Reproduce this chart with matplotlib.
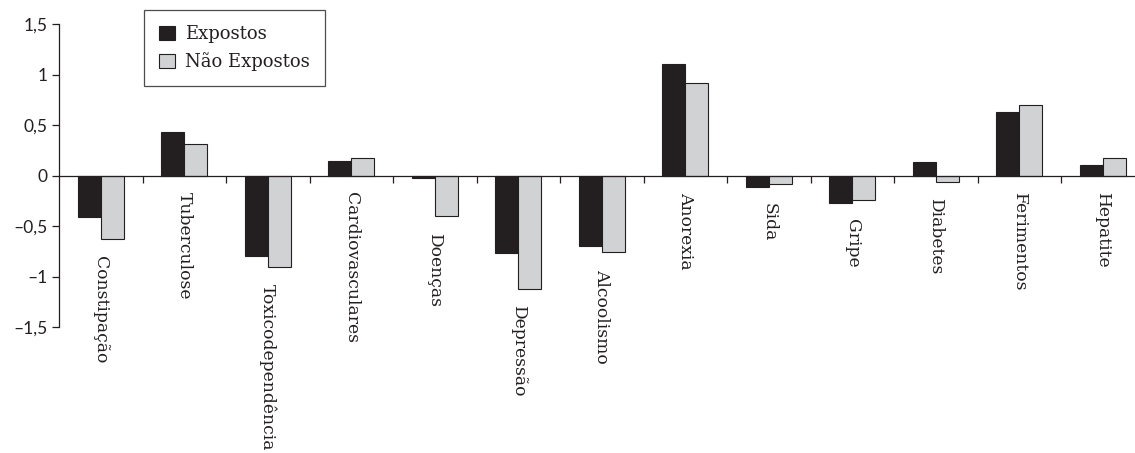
import matplotlib
matplotlib.use('Agg')
import matplotlib.pyplot as plt
from matplotlib.ticker import FuncFormatter
import numpy as np

# data
categorias = ['Constipação', 'Tuberculose', 'Toxicodependência', 'Cardiovasculares',
              'Doenças', 'Depressão', 'Alcoolismo', 'Anorexia', 'Sida', 'Gripe',
              'Diabetes', 'Ferimentos', 'Hepatite']
expostos = [-0.41, 0.43, -0.80, 0.14, -0.02, -0.77, -0.70, 1.10, -0.11, -0.27, 0.13, 0.63, 0.10]
nao_expostos = [-0.63, 0.31, -0.91, 0.17, -0.40, -1.12, -0.76, 0.92, -0.08, -0.24, -0.06, 0.70, 0.17]
y_ticks = [-1.5, -1, -0.5, 0, 0.5, 1, 1.5]

DARK = '#231f20'
GREY = '#d1d2d4'

fig = plt.figure(figsize=(11.35, 4.53), dpi=100)
ax = fig.add_axes([59 / 1135, (453 - 327) / 453, 1 - 59 / 1135, 303 / 453])

x = np.arange(len(categorias))
w = 0.275
ax.bar(x - w / 2, expostos, w, color=DARK, edgecolor=DARK, linewidth=0.8, label='Expostos')
ax.bar(x + w / 2, nao_expostos, w, color=GREY, edgecolor=DARK, linewidth=0.8, label='Não Expostos')

ax.set_xlim(-0.5, -0.5 + 1076 / 83.5)
ax.set_ylim(-1.5, 1.5)

# spines: y axis on the left, x axis through zero
for s in ['top', 'right']:
    ax.spines[s].set_visible(False)
ax.spines['bottom'].set_position(('data', 0))
ax.spines['left'].set_bounds(-1.5, 1.5)
for s in ['left', 'bottom']:
    ax.spines[s].set_linewidth(0.9)
    ax.spines[s].set_color(DARK)


def fmt(v, p):
    s = '{:g}'.format(abs(v)).replace('.', ',')
    return s if v >= 0 else '\u2013' + s


ax.set_yticks(y_ticks)
ax.yaxis.set_major_formatter(FuncFormatter(fmt))
ax.tick_params(axis='y', direction='out', length=5, width=0.9, color=DARK, pad=3,
               labelsize=12.5, labelcolor=DARK)
for t in ax.get_yticklabels():
    t.set_fontfamily('Lato')

ax.set_xticks(np.arange(len(categorias) - 1) + 0.5)
ax.set_xticklabels([])
ax.tick_params(axis='x', direction='out', length=5, width=0.9, color=DARK)

# category labels, rotated, just below the lowest bar
for i, nome in enumerate(categorias):
    base = min(0, expostos[i], nao_expostos[i])
    ax.annotate(nome, xy=(i, base), xytext=(0, -12), textcoords='offset points',
                rotation=270, ha='center', va='top', fontsize=12.3,
                family='DejaVu Serif', color=DARK, annotation_clip=False)

leg = ax.legend(loc='upper left', bbox_to_anchor=(0.079, 1.047), frameon=True,
                fancybox=False, edgecolor=DARK, handlelength=0.85, handleheight=0.85,
                handletextpad=0.55, borderpad=0.85, labelspacing=0.5, borderaxespad=0,
                prop={'family': 'DejaVu Serif', 'size': 13})
leg.get_frame().set_linewidth(0.9)
leg.get_frame().set_facecolor('white')
for t in leg.get_texts():
    t.set_color(DARK)

fig.savefig('out.png', dpi=100)
